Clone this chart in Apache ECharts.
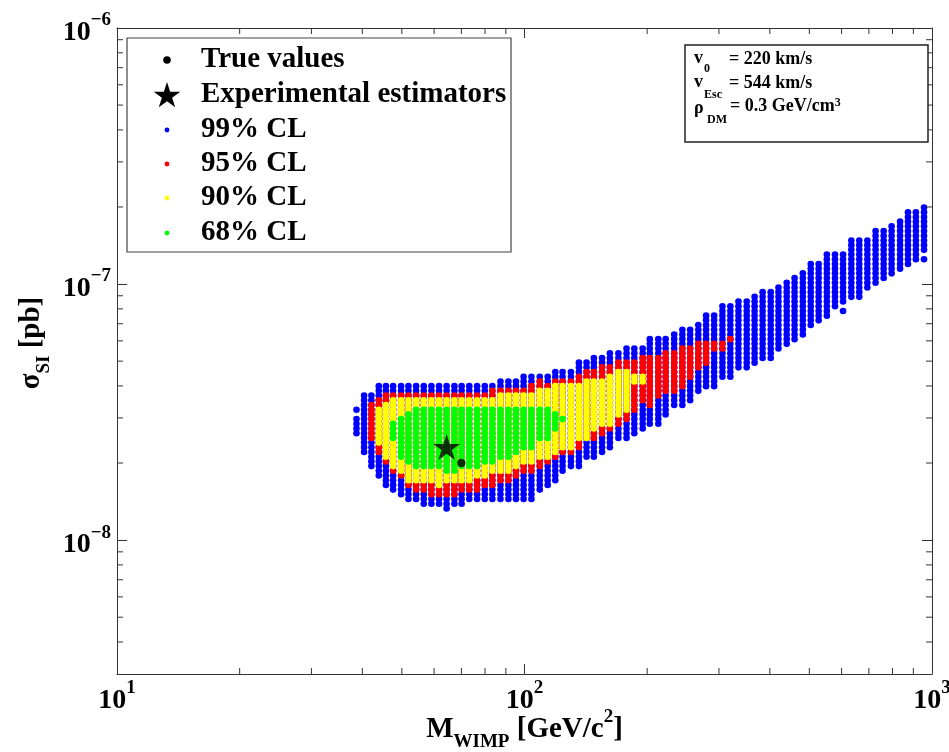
<!DOCTYPE html>
<html>
<head>
<meta charset="utf-8">
<script src="https://cdn.jsdelivr.net/npm/echarts/dist/echarts.min.js"></script>
<style>html,body{margin:0;padding:0;background:#fff}#chart{width:949px;height:752px}</style>
</head>
<body>
<div id="chart"></div>
<script>
// ---------------- data ----------------
// WIMP mass of each grid column [GeV/c^2]
const massGeV = [38.7,40.4,42.1,43.9,45.7,47.6,49.8,51.9,54.2,56.6,59.1,61.7,64.4,67.3,70.1,73.2,76.5,79.9,83.4,87.3,
  91.3,95.3,99.5,104,109,114,119,124,130,136,142,148,155,162,170,178,186,195,203,213,
  222,233,244,255,267,279,292,306,320,335,351,367,384,402,420,440,460,482,504,527,
  552,578,605,634,663,694,727,761,796,835,873,913,956];
// sigma_SI range [low, high] in pb covered by each CL region, column by column
const cl99From = 0;
const cl99 = [[2.64e-8,2.94e-8],[2.21e-8,3.69e-8],[1.93e-8,3.69e-8],[1.76e-8,4.03e-8],[1.65e-8,4.03e-8],[1.57e-8,3.92e-8],
  [1.50e-8,4.03e-8],[1.46e-8,4.03e-8],[1.43e-8,4.03e-8],[1.41e-8,4.03e-8],[1.40e-8,4.03e-8],[1.40e-8,4.03e-8],
  [1.33e-8,4.03e-8],[1.40e-8,4.03e-8],[1.40e-8,4.03e-8],[1.43e-8,4.03e-8],[1.43e-8,4.03e-8],[1.46e-8,4.03e-8],
  [1.47e-8,4.03e-8],[1.47e-8,4.11e-8],[1.47e-8,4.11e-8],[1.43e-8,4.22e-8],[1.43e-8,4.29e-8],[1.47e-8,4.29e-8],
  [1.57e-8,4.41e-8],[1.64e-8,4.41e-8],[1.75e-8,4.61e-8],[1.84e-8,4.61e-8],[1.91e-8,4.61e-8],[1.96e-8,4.91e-8],
  [2.09e-8,4.91e-8],[2.13e-8,5.14e-8],[2.21e-8,5.14e-8],[2.35e-8,5.38e-8],[2.46e-8,5.38e-8],[2.53e-8,5.62e-8],
  [2.62e-8,5.62e-8],[2.69e-8,5.62e-8],[2.81e-8,6.15e-8],[2.89e-8,6.15e-8],[3.08e-8,6.15e-8],[3.31e-8,6.44e-8],
  [3.43e-8,6.73e-8],[3.52e-8,6.73e-8],[3.79e-8,7.04e-8],[3.96e-8,7.37e-8],[3.96e-8,7.37e-8],[4.33e-8,8.06e-8],
  [4.33e-8,8.06e-8],[4.70e-8,8.43e-8],[4.74e-8,8.43e-8],[4.91e-8,8.82e-8],[5.14e-8,9.22e-8],[5.19e-8,9.22e-8],
  [5.62e-8,9.65e-8],[5.93e-8,1.01e-7],[6.04e-8,1.06e-7],[6.44e-8,1.10e-7],[6.79e-8,1.21e-7],[7.11e-8,1.22e-7],
  [7.43e-8,1.28e-7],[8.13e-8,1.33e-7],[8.66e-8,1.33e-7],[8.90e-8,1.46e-7],[8.90e-8,1.46e-7],[9.65e-8,1.46e-7],
  [9.91e-8,1.60e-7],[1.04e-7,1.60e-7],[1.11e-7,1.67e-7],[1.13e-7,1.75e-7],[1.22e-7,1.93e-7],[1.24e-7,1.93e-7],
  [1.36e-7,2.00e-7]];
// isolated 99% CL points [mass, sigma]
const cl99Isolated = [[38.7,3.19e-8],[605,7.91e-8],[956,1.25e-7]];
const cl95From = 2;
const cl95 = [[2.53e-8,3.40e-8],[2.19e-8,3.59e-8],[2.02e-8,3.62e-8],[1.88e-8,3.69e-8],[1.76e-8,3.69e-8],[1.67e-8,3.69e-8],
  [1.60e-8,3.69e-8],[1.57e-8,3.69e-8],[1.54e-8,3.69e-8],[1.53e-8,3.69e-8],[1.54e-8,3.69e-8],[1.54e-8,3.69e-8],
  [1.57e-8,3.69e-8],[1.60e-8,3.69e-8],[1.60e-8,3.69e-8],[1.61e-8,3.69e-8],[1.67e-8,3.75e-8],[1.69e-8,3.86e-8],
  [1.72e-8,3.86e-8],[1.76e-8,3.86e-8],[1.84e-8,3.86e-8],[1.84e-8,3.92e-8],[1.93e-8,4.11e-8],[2.00e-8,4.03e-8],
  [2.11e-8,4.14e-8],[2.25e-8,4.22e-8],[2.21e-8,4.22e-8],[2.31e-8,4.29e-8],[2.46e-8,4.49e-8],[2.50e-8,4.61e-8],
  [2.62e-8,4.70e-8],[2.69e-8,4.70e-8],[2.81e-8,4.83e-8],[2.94e-8,4.91e-8],[3.28e-8,4.91e-8],[3.46e-8,5.05e-8],
  [3.43e-8,5.14e-8],[3.62e-8,5.14e-8],[3.75e-8,5.38e-8],[3.86e-8,5.38e-8],[3.96e-8,5.62e-8],[4.33e-8,5.62e-8],
  [4.74e-8,5.88e-8],[4.96e-8,5.88e-8],[5.52e-8,5.88e-8],[5.62e-8,5.88e-8],[6.04e-8,6.04e-8]];
const cl90From = 3;
const cl90 = [[2.39e-8,3.22e-8],[2.15e-8,3.43e-8],[1.96e-8,3.52e-8],[1.83e-8,3.52e-8],[1.72e-8,3.52e-8],[1.72e-8,3.52e-8],
  [1.69e-8,3.52e-8],[1.69e-8,3.52e-8],[1.67e-8,3.52e-8],[1.69e-8,3.52e-8],[1.72e-8,3.52e-8],[1.72e-8,3.52e-8],
  [1.75e-8,3.52e-8],[1.79e-8,3.52e-8],[1.79e-8,3.52e-8],[1.83e-8,3.52e-8],[1.84e-8,3.69e-8],[1.88e-8,3.69e-8],
  [1.93e-8,3.69e-8],[2.02e-8,3.69e-8],[2.00e-8,3.69e-8],[2.09e-8,3.75e-8],[2.09e-8,3.86e-8],[2.19e-8,3.96e-8],
  [2.35e-8,3.96e-8],[2.35e-8,3.92e-8],[2.50e-8,3.96e-8],[2.53e-8,4.11e-8],[2.69e-8,4.14e-8],[2.81e-8,4.14e-8],
  [2.89e-8,4.29e-8],[3.08e-8,4.49e-8],[3.22e-8,4.49e-8],[4.11e-8,4.41e-8],[4.14e-8,4.41e-8]];
const cl68From = 5;
const cl68 = [[2.50e-8,2.86e-8],[2.09e-8,2.94e-8],[2.00e-8,3.13e-8],[1.96e-8,3.22e-8],[1.93e-8,3.22e-8],[1.93e-8,3.22e-8],
  [1.91e-8,3.28e-8],[1.88e-8,3.28e-8],[1.88e-8,3.28e-8],[1.91e-8,3.28e-8],[1.93e-8,3.28e-8],[1.96e-8,3.28e-8],
  [2.00e-8,3.28e-8],[2.02e-8,3.28e-8],[2.09e-8,3.28e-8],[2.15e-8,3.28e-8],[2.21e-8,3.28e-8],[2.31e-8,3.22e-8],
  [2.31e-8,3.22e-8],[2.46e-8,3.22e-8],[2.46e-8,3.22e-8],[2.69e-8,3.08e-8],[2.94e-8,2.94e-8]];
const trueValue = [70, 2.0e-8];
const estimator = [64.4, 2.31e-8];
// axes
const X_MIN = 10, X_MAX = 1000, Y_MIN = 3e-9, Y_MAX = 1e-6;
const xMinorTicks = [20,30,40,50,60,70,80,90,200,300,400,500,600,700,800,900];
const yMinorTicks = [4e-9,5e-9,6e-9,7e-9,8e-9,9e-9,2e-8,3e-8,4e-8,5e-8,6e-8,7e-8,8e-8,9e-8,2e-7,3e-7,4e-7,5e-7,6e-7,7e-7,8e-7,9e-7];
const legendLabels = ['True values','Experimental estimators','99% CL','95% CL','90% CL','68% CL'];

// ---------------- styling ----------------
const FONT = '"Liberation Serif","Times New Roman",Times,serif';
const AXIS_COLOR = '#333';
const COLORS = {c99:'#0000ff', c95:'#ff0000', c90:'#ffff00', c68:'#00ff00'};
const DOT_R = 3.3;
const DOT_PITCH_DEC = 0.01836;   // vertical dot pitch of the grid, in decades
const DOT_ANCHOR = 1.33e-8;      // a grid row used to align the dot rows
const MAJOR_LEN = 10, MINOR_LEN = 6;
const STAR = 'path://M50,0L61.23,34.55L97.55,34.55L68.17,55.9L79.39,90.45L50,69.1L20.61,90.45L31.83,55.9L2.45,34.55L38.77,34.55Z';

function bands(list, from) {
  return list.map((b, i) => [massGeV[from + i], b[0], b[1]]);
}
function dotColumn(color) {
  return function (params, api) {
    const x = api.value(0), lo = api.value(1), hi = api.value(2);
    const pLo = api.coord([x, lo]);
    const pHi = api.coord([x, hi]);
    const a = api.coord([x, DOT_ANCHOR])[1];
    const dec = api.coord([x, 1e-8])[1] - api.coord([x, 1e-7])[1];
    const pitch = dec * DOT_PITCH_DEC;
    const k0 = Math.round((a - pLo[1]) / pitch);
    const k1 = Math.round((a - pHi[1]) / pitch);
    const children = [];
    for (let k = k0; k <= k1; k++) {
      children.push({type: 'circle', shape: {cx: pLo[0], cy: a - k * pitch, r: DOT_R}, style: {fill: color}});
    }
    return {type: 'group', children};
  };
}
function supLabel(v) {
  const e = Math.log10(v);
  const r = Math.round(e);
  if (Math.abs(e - r) > 1e-6) return '';
  return '{b|10}{s|' + (r < 0 ? '\u2212' + (-r) : r) + '}';
}
const labelRich = {
  b: {fontFamily: FONT, fontWeight: 'bold', fontSize: 28, color: '#000', lineHeight: 44, verticalAlign: 'middle'},
  s: {fontFamily: FONT, fontWeight: 'bold', fontSize: 19, color: '#000', lineHeight: 6, verticalAlign: 'top'}
};
const axisBase = {
  type: 'log', logBase: 10,
  axisLine: {show: true, lineStyle: {color: AXIS_COLOR, width: 1}},
  axisTick: {show: true, inside: true, length: MAJOR_LEN, lineStyle: {color: AXIS_COLOR, width: 1}},
  splitLine: {show: false},
  minorTick: {show: false}
};

function starPoints(cx, cy, R) {
  const pts = [];
  for (let i = 0; i < 10; i++) {
    const ang = -Math.PI / 2 + i * Math.PI / 5;
    const r = i % 2 ? R * 0.382 : R;
    pts.push([cx + r * Math.cos(ang), cy + r * Math.sin(ang)]);
  }
  return pts;
}
const txt = (text, x, y, size, rich) => ({
  type: 'text', z: 100,
  style: {text, x, y, fill: '#000', font: 'bold ' + size + 'px ' + FONT, fontFamily: FONT, fontWeight: 'bold', fontSize: size,
    textVerticalAlign: 'middle', verticalAlign: 'middle', rich: rich || {}}
});
const infoRich = {sup: {fontFamily: FONT, fontWeight: 'bold', fontSize: 12, fill: '#000', lineHeight: 8, verticalAlign: 'top'}};

const legendRows = [60, 95, 130, 164, 198, 233];
const legendGraphic = [
  {type: 'rect', z: 99, shape: {x: 127, y: 38, width: 384, height: 214}, style: {fill: '#fff', stroke: '#444', lineWidth: 1.2}},
  {type: 'circle', z: 100, shape: {cx: 167, cy: legendRows[0], r: 3.8}, style: {fill: '#000'}},
  {type: 'polygon', z: 100, shape: {points: starPoints(167, legendRows[1] + 1, 14)}, style: {fill: '#000'}},
  {type: 'circle', z: 100, shape: {cx: 167, cy: legendRows[2], r: 2.4}, style: {fill: COLORS.c99}},
  {type: 'circle', z: 100, shape: {cx: 167, cy: legendRows[3], r: 2.4}, style: {fill: COLORS.c95}},
  {type: 'circle', z: 100, shape: {cx: 167, cy: legendRows[4], r: 2.4}, style: {fill: COLORS.c90}},
  {type: 'circle', z: 100, shape: {cx: 167, cy: legendRows[5], r: 2.4}, style: {fill: COLORS.c68}}
].concat(legendLabels.map((t, i) => txt(t, 201, legendRows[i], 29)));

const infoGraphic = [
  {type: 'rect', z: 99, shape: {x: 685, y: 45, width: 243, height: 97}, style: {fill: '#fff', stroke: '#222', lineWidth: 1.5}},
  txt('v', 694, 58, 18), txt('0', 704, 69, 12), txt('= 220 km/s', 729, 59, 18),
  txt('v', 694, 82, 18), txt('Esc', 704, 95, 12), txt('= 544 km/s', 729, 83, 18),
  txt('\u03c1', 694, 108, 18), txt('DM', 707, 120, 12), txt('= 0.3 GeV/cm{sup|3}', 730, 106, 18, infoRich)
];

const chart = echarts.init(document.getElementById('chart'), null, {renderer: 'canvas'});
chart.setOption({
  backgroundColor: '#fff',
  animation: false,
  grid: {left: 117, right: 17, top: 28, bottom: 78, containLabel: false, outerBoundsMode: 'none'},
  xAxis: [
    Object.assign({}, axisBase, {
      min: X_MIN, max: X_MAX, position: 'bottom',
      axisLabel: {show: true, margin: 5, formatter: supLabel, rich: labelRich},
      name: '{m|M}{sub|WIMP}{m| [GeV/c}{sup|2}{m|]}',
      nameLocation: 'middle', nameGap: 34, nameMoveOverlap: false,
      nameTextStyle: {rich: {
        m: {fontFamily: FONT, fontWeight: 'bold', fontSize: 29, color: '#000', lineHeight: 44, verticalAlign: 'middle'},
        sub: {fontFamily: FONT, fontWeight: 'bold', fontSize: 19, color: '#000', lineHeight: 20, verticalAlign: 'bottom'},
        sup: {fontFamily: FONT, fontWeight: 'bold', fontSize: 19, color: '#000', lineHeight: 8, verticalAlign: 'top'}
      }}
    }),
    Object.assign({}, axisBase, {min: X_MIN, max: X_MAX, position: 'top', axisLabel: {show: false}})
  ],
  yAxis: [
    Object.assign({}, axisBase, {
      min: Y_MIN, max: Y_MAX, position: 'left',
      axisLabel: {show: true, margin: 6, padding: [10, 0, 0, 0], formatter: supLabel, rich: labelRich},
      name: '{m|\u03c3}{sub|SI}{m| [pb]}',
      nameLocation: 'middle', nameGap: 63, nameRotate: 90, nameMoveOverlap: false,
      nameTextStyle: {padding: [0, 0, 0, 16], rich: {
        m: {fontFamily: FONT, fontWeight: 'bold', fontSize: 29, color: '#000', lineHeight: 44, verticalAlign: 'middle'},
        sub: {fontFamily: FONT, fontWeight: 'bold', fontSize: 19, color: '#000', lineHeight: 20, verticalAlign: 'bottom'}
      }}
    }),
    Object.assign({}, axisBase, {min: Y_MIN, max: Y_MAX, position: 'right', axisLabel: {show: false}})
  ],
  graphic: legendGraphic.concat(infoGraphic),
  series: [
    {name: '99% CL', type: 'custom', renderItem: dotColumn(COLORS.c99), encode: {x: 0, y: [1, 2]},
      data: bands(cl99, cl99From).concat(cl99Isolated.map(p => [p[0], p[1], p[1]]))},
    {name: '95% CL', type: 'custom', renderItem: dotColumn(COLORS.c95), encode: {x: 0, y: [1, 2]}, data: bands(cl95, cl95From)},
    {name: '90% CL', type: 'custom', renderItem: dotColumn(COLORS.c90), encode: {x: 0, y: [1, 2]}, data: bands(cl90, cl90From)},
    {name: '68% CL', type: 'custom', renderItem: dotColumn(COLORS.c68), encode: {x: 0, y: [1, 2]}, data: bands(cl68, cl68From)},
    {name: 'Experimental estimators', type: 'scatter', symbol: STAR, symbolSize: [27, 26], itemStyle: {color: '#000'}, data: [estimator], z: 5},
    {name: 'True values', type: 'scatter', symbol: 'circle', symbolSize: 8.5, itemStyle: {color: '#000'}, data: [trueValue], z: 6},
    {name: 'minor x ticks', type: 'custom', silent: true, encode: {x: 0, y: 1},
      data: xMinorTicks.map(v => [v, Y_MIN]),
      renderItem: (p, api) => {
        const b = api.coord([api.value(0), Y_MIN]), t = api.coord([api.value(0), Y_MAX]);
        const st = {stroke: AXIS_COLOR, lineWidth: 1};
        return {type: 'group', children: [
          {type: 'line', shape: {x1: b[0], y1: b[1], x2: b[0], y2: b[1] - MINOR_LEN}, style: st},
          {type: 'line', shape: {x1: t[0], y1: t[1], x2: t[0], y2: t[1] + MINOR_LEN}, style: st}
        ]};
      }},
    {name: 'minor y ticks', type: 'custom', silent: true, encode: {x: 0, y: 1},
      data: yMinorTicks.map(v => [X_MIN, v]),
      renderItem: (p, api) => {
        const l = api.coord([X_MIN, api.value(1)]), r = api.coord([X_MAX, api.value(1)]);
        const st = {stroke: AXIS_COLOR, lineWidth: 1};
        return {type: 'group', children: [
          {type: 'line', shape: {x1: l[0], y1: l[1], x2: l[0] + MINOR_LEN, y2: l[1]}, style: st},
          {type: 'line', shape: {x1: r[0], y1: r[1], x2: r[0] - MINOR_LEN, y2: r[1]}, style: st}
        ]};
      }}
  ]
});
</script>
</body>
</html>
